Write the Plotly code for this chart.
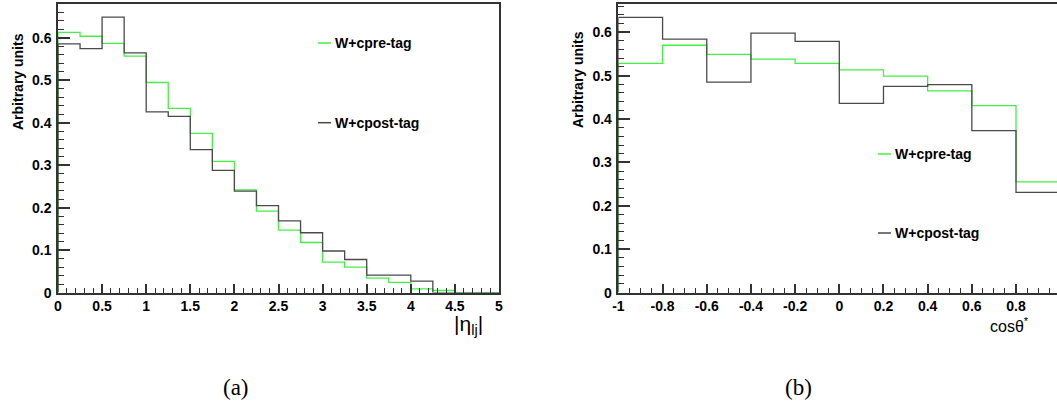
import plotly.graph_objects as go

W, H = 1057, 405

# ---------------- data ----------------
eta_edges = [0.0, 0.25, 0.5, 0.75, 1.0, 1.25, 1.5, 1.75, 2.0, 2.25, 2.5,
             2.75, 3.0, 3.25, 3.5, 3.75, 4.0, 4.25, 4.5, 4.75, 5.0]
eta_pre = [0.613, 0.604, 0.587, 0.557, 0.495, 0.434, 0.375, 0.309, 0.242, 0.192,
           0.147, 0.118, 0.072, 0.060, 0.034, 0.024, 0.009, 0.005, 0.0, 0.0]
eta_post = [0.586, 0.575, 0.649, 0.565, 0.426, 0.415, 0.337, 0.288, 0.239, 0.205,
            0.169, 0.141, 0.098, 0.078, 0.041, 0.041, 0.027, 0.0, 0.0, 0.0]

cos_edges = [-1.0, -0.8, -0.6, -0.4, -0.2, 0.0, 0.2, 0.4, 0.6, 0.8, 1.0]
cos_pre = [0.528, 0.570, 0.549, 0.538, 0.528, 0.513, 0.499, 0.465, 0.431, 0.255]
cos_post = [0.634, 0.584, 0.485, 0.598, 0.579, 0.436, 0.475, 0.479, 0.373, 0.231]

eta_tickvals = [0, 0.5, 1, 1.5, 2, 2.5, 3, 3.5, 4, 4.5, 5]
eta_ticktext = ["0", "0.5", "1", "1.5", "2", "2.5", "3", "3.5", "4", "4.5", "5"]
cos_tickvals = [-1, -0.8, -0.6, -0.4, -0.2, 0, 0.2, 0.4, 0.6, 0.8]
cos_ticktext = ["-1", "-0.8", "-0.6", "-0.4", "-0.2", "0", "0.2", "0.4", "0.6", "0.8"]
y_tickvals = [0, 0.1, 0.2, 0.3, 0.4, 0.5, 0.6]
y_ticktext = ["0", "0.1", "0.2", "0.3", "0.4", "0.5", "0.6"]

label_pre = "W+cpre-tag"
label_post = "W+cpost-tag"

GREEN = "#44f044"
BLACK = "#4a4a4a"
FRAME = "#333333"


def step_path(edges, vals):
    xs = [edges[0]] + list(edges)
    ys = [0.0] + list(vals) + [0.0]
    return xs, ys


def px_x(p):
    return p / W


def px_y(p):
    return 1 - p / H


fig = go.Figure()

for edges, vals, color, xa, ya in [
    (eta_edges, eta_pre, GREEN, "x", "y"),
    (eta_edges, eta_post, BLACK, "x", "y"),
    (cos_edges, cos_pre, GREEN, "x2", "y2"),
    (cos_edges, cos_post, BLACK, "x2", "y2"),
]:
    xs, ys = step_path(edges, vals)
    fig.add_trace(go.Scatter(x=xs, y=ys, mode="lines", line_shape="hv",
                             line=dict(color=color, width=1.3),
                             xaxis=xa, yaxis=ya, showlegend=False,
                             hoverinfo="skip"))

tickfont = dict(family="Liberation Sans", size=14, color="black", weight="bold")

ydom = [px_y(292.6), px_y(4)]

common_x = dict(showgrid=False, zeroline=False, showline=True, linecolor=FRAME,
                linewidth=1.5, ticks="inside", ticklen=9, tickwidth=1.5,
                tickcolor=FRAME, tickfont=tickfont, tickmode="array",
                automargin=False)
common_y = dict(showgrid=False, zeroline=False, showline=True, linecolor=FRAME,
                linewidth=1.5, ticks="inside", ticklen=12, tickwidth=1.5,
                tickcolor=FRAME, tickfont=tickfont, tickmode="array",
                tickvals=y_tickvals, ticktext=y_ticktext, ticklabelstandoff=2,
                automargin=False)

fig.update_layout(
    width=W, height=H,
    margin=dict(l=0, r=0, t=0, b=0, autoexpand=False),
    paper_bgcolor="white", plot_bgcolor="white",
    xaxis=dict(common_x, domain=[px_x(58), px_x(499)], range=[0, 5],
               tickvals=eta_tickvals, ticktext=eta_ticktext, mirror=True,
               anchor="y",
               minor=dict(tick0=0, dtick=0.1, ticks="inside", ticklen=4.5,
                          tickwidth=1.3, tickcolor=FRAME)),
    yaxis=dict(common_y, domain=ydom, range=[0, 0.68], mirror=True, anchor="x",
               minor=dict(tick0=0, dtick=0.02, ticks="inside", ticklen=6,
                          tickwidth=1.3, tickcolor=FRAME)),
    xaxis2=dict(common_x, domain=[px_x(618.4), 1.0], range=[-1, 0.9855],
                tickvals=cos_tickvals, ticktext=cos_ticktext, mirror=True,
                anchor="y2",
                minor=dict(tick0=-1, dtick=0.05, ticks="inside", ticklen=4.5,
                           tickwidth=1.3, tickcolor=FRAME)),
    yaxis2=dict(common_y, domain=ydom, range=[0, 0.665], mirror=False, anchor="x2",
                minor=dict(tick0=0, dtick=0.02, ticks="inside", ticklen=6,
                           tickwidth=1.3, tickcolor=FRAME)),
)

ann = []
shapes = []

legfont = dict(family="Liberation Sans", size=14, color="black", weight="bold")
for (lx0, lx1, ty, label, color) in [
    (318, 331, 43, label_pre, GREEN),
    (318, 331, 122.7, label_post, BLACK),
    (878, 891, 154, label_pre, GREEN),
    (878, 891, 233, label_post, BLACK),
]:
    shapes.append(dict(type="line", xref="paper", yref="paper",
                       x0=px_x(lx0), x1=px_x(lx1), y0=px_y(ty), y1=px_y(ty),
                       line=dict(color=color, width=1.5)))
    ann.append(dict(text=label, xref="paper", yref="paper", x=px_x(lx1 + 2),
                    y=px_y(ty), xanchor="left", yanchor="middle",
                    showarrow=False, font=legfont))

titlefont = dict(family="Liberation Sans", size=14, color="black", weight="bold")
for (cx, cy) in [(18, 82), (578, 80)]:
    ann.append(dict(text="Arbitrary units", xref="paper", yref="paper",
                    x=px_x(cx), y=px_y(cy), xanchor="center", yanchor="middle",
                    textangle=-90, showarrow=False, font=titlefont))

ann.append(dict(text="|η<sub>lj</sub>|", xref="paper", yref="paper",
                x=px_x(484), y=px_y(311), xanchor="right", yanchor="top",
                showarrow=False, borderpad=0,
                font=dict(family="Liberation Sans", size=21, color="black")))
ann.append(dict(text="cosθ<sup>*</sup>", xref="paper", yref="paper",
                x=px_x(1031), y=px_y(313), xanchor="right", yanchor="top",
                showarrow=False,
                font=dict(family="Liberation Sans", size=16, color="black")))

capfont = dict(family="Liberation Serif", size=23, color="black")
ann.append(dict(text="(a)", xref="paper", yref="paper", x=px_x(236), y=px_y(387),
                xanchor="center", yanchor="middle", showarrow=False, font=capfont))
ann.append(dict(text="(b)", xref="paper", yref="paper", x=px_x(798.5), y=px_y(387),
                xanchor="center", yanchor="middle", showarrow=False, font=capfont))

fig.update_layout(annotations=ann, shapes=shapes)

fig.write_html(
    "out.html",
    config={"displayModeBar": False},
    post_script="document.body.style.margin='0';"
                "document.body.style.overflow='hidden';",
)
